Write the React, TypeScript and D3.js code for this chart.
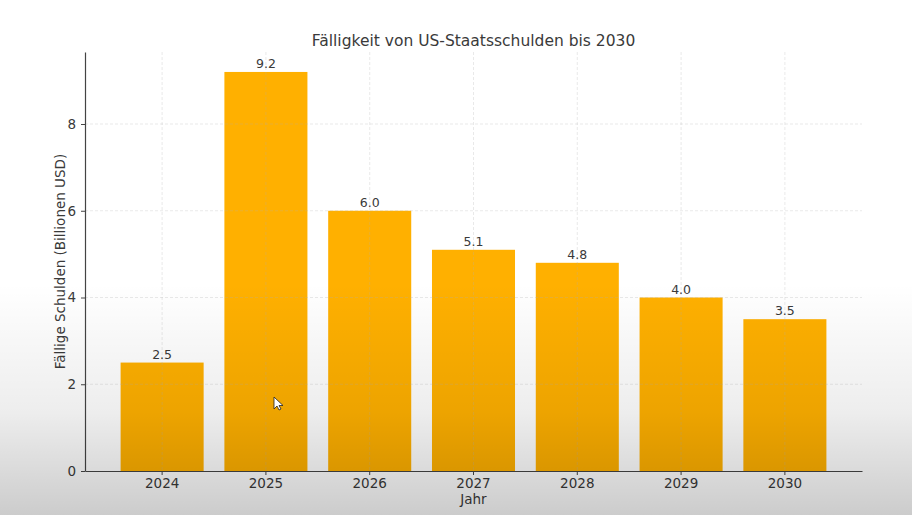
import * as d3 from 'd3';
import { useEffect, useRef } from 'react';

const years = ['2024', '2025', '2026', '2027', '2028', '2029', '2030'];
const debtDue = [2.5, 9.2, 6.0, 5.1, 4.8, 4.0, 3.5];
const yTicks = [0, 2, 4, 6, 8];

const W = 912;
const H = 515;
const margin = { top: 52, right: 50, bottom: 44, left: 85 };
const font = '"DejaVu Sans", sans-serif';
const textColor = '#3a3a3a';

const App = () => {
  const ref = useRef<SVGSVGElement>(null);

  useEffect(() => {
    const svg = d3.select(ref.current);
    svg.selectAll('*').remove();

    const x0 = margin.left;
    const x1 = W - margin.right;
    const y0 = H - margin.bottom;
    const y1 = margin.top;

    const x = d3.scaleBand().domain(years).range([x0, x1]).paddingInner(0.2).paddingOuter(0.343);
    const y = d3.scaleLinear().domain([0, 9.2 * 1.05]).range([y0, y1]);

    const defs = svg.append('defs');
    const shade = defs
      .append('linearGradient')
      .attr('id', 'shade')
      .attr('x1', 0)
      .attr('y1', 0)
      .attr('x2', 0)
      .attr('y2', 1);
    shade.append('stop').attr('offset', '0.55').attr('stop-color', '#000').attr('stop-opacity', 0);
    shade.append('stop').attr('offset', '0.8').attr('stop-color', '#000').attr('stop-opacity', 0.07);
    shade.append('stop').attr('offset', '1').attr('stop-color', '#000').attr('stop-opacity', 0.2);

    svg.append('rect').attr('width', W).attr('height', H).attr('fill', '#fff');

    // bars
    svg
      .append('g')
      .selectAll('rect')
      .data(debtDue)
      .join('rect')
      .attr('x', (_, i) => x(years[i])!)
      .attr('y', (d) => y(d))
      .attr('width', x.bandwidth())
      .attr('height', (d) => y0 - y(d))
      .attr('fill', '#ffb000');

    // dashed grid, drawn over the bars
    const grid = svg
      .append('g')
      .attr('stroke', '#b0b0b0')
      .attr('stroke-opacity', 0.35)
      .attr('stroke-dasharray', '3,2')
      .attr('stroke-width', 0.8);
    grid
      .selectAll('line.gy')
      .data(yTicks.filter((t) => t > 0))
      .join('line')
      .attr('x1', x0)
      .attr('x2', x1)
      .attr('y1', (d) => y(d))
      .attr('y2', (d) => y(d));
    grid
      .selectAll('line.gx')
      .data(years)
      .join('line')
      .attr('x1', (d) => x(d)! + x.bandwidth() / 2)
      .attr('x2', (d) => x(d)! + x.bandwidth() / 2)
      .attr('y1', y1)
      .attr('y2', y0);

    // value labels
    svg
      .append('g')
      .selectAll('text')
      .data(debtDue)
      .join('text')
      .attr('x', (_, i) => x(years[i])! + x.bandwidth() / 2)
      .attr('y', (d) => y(d) - 4)
      .attr('text-anchor', 'middle')
      .attr('font-family', font)
      .attr('font-size', 12.5)
      .attr('fill', textColor)
      .text((d) => d.toFixed(1));

    // axes
    const xAxis = svg
      .append('g')
      .attr('transform', `translate(0,${y0})`)
      .call(d3.axisBottom(x).tickSizeInner(4).tickSizeOuter(0).tickPadding(3));
    const yAxis = svg
      .append('g')
      .attr('transform', `translate(${x0},0)`)
      .call(d3.axisLeft(y).tickValues(yTicks).tickSizeInner(4).tickSizeOuter(0).tickPadding(5));
    [xAxis, yAxis].forEach((g) => {
      g.select('.domain').attr('stroke', '#444').attr('stroke-width', 1.2);
      g.selectAll('.tick line').attr('stroke', '#444');
      g.selectAll('.tick text').attr('font-family', font).attr('font-size', 13.5).attr('fill', textColor);
    });

    svg
      .append('text')
      .attr('x', (x0 + x1) / 2)
      .attr('y', 46)
      .attr('text-anchor', 'middle')
      .attr('font-family', font)
      .attr('font-size', 15.5)
      .attr('fill', textColor)
      .text('Fälligkeit von US-Staatsschulden bis 2030');

    svg
      .append('text')
      .attr('x', (x0 + x1) / 2)
      .attr('y', 504)
      .attr('text-anchor', 'middle')
      .attr('font-family', font)
      .attr('font-size', 13.5)
      .attr('fill', textColor)
      .text('Jahr');

    svg
      .append('text')
      .attr('transform', `translate(65,${(y0 + y1) / 2}) rotate(-90)`)
      .attr('text-anchor', 'middle')
      .attr('font-family', font)
      .attr('font-size', 13.5)
      .attr('fill', textColor)
      .text('Fällige Schulden (Billionen USD)');

    // darkening toward the bottom edge
    svg.append('rect').attr('width', W).attr('height', H).attr('fill', 'url(#shade)');

    // mouse pointer
    svg
      .append('path')
      .attr('transform', 'translate(274,397)')
      .attr('d', 'M0,0 L0,12 L3,9 L5,13 L7,12 L5,8.5 L9,8.5 Z')
      .attr('fill', '#fff')
      .attr('stroke', '#222')
      .attr('stroke-width', 0.8);
  }, []);

  return (
    <svg
      ref={ref}
      width={W}
      height={H}
      style={{ position: 'absolute', left: 0, top: 0, display: 'block' }}
    />
  );
};

export default App;
